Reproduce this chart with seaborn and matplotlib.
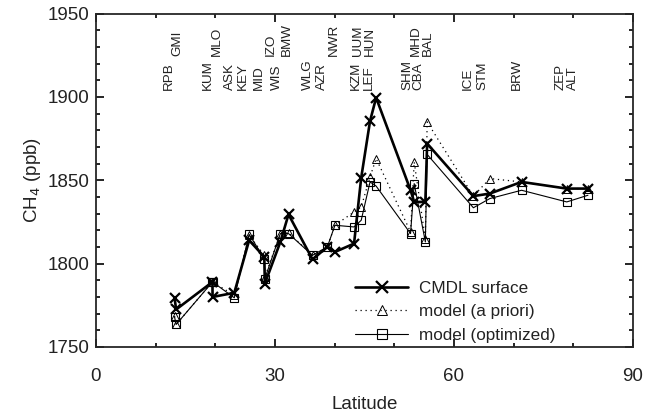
import matplotlib
matplotlib.use("Agg")
import matplotlib.pyplot as plt
import matplotlib.transforms as mtransforms
from matplotlib.ticker import MultipleLocator
import numpy as np
import pandas as pd
import seaborn as sns

# ---- data ----
stations = ["RPB", "GMI", "KUM", "MLO", "ASK", "KEY", "MID", "IZO", "WIS", "BMW",
            "WLG", "AZR", "NWR", "KZM", "UUM", "LEF", "HUN", "SHM", "MHD", "CBA",
            "BAL", "ICE", "STM", "BRW", "ZEP", "ALT"]
latitude = [13.17, 13.43, 19.52, 19.54, 23.18, 25.67, 28.21, 28.30, 30.90, 32.27,
            36.29, 38.77, 40.05, 43.25, 44.45, 45.93, 46.95, 52.72, 53.33, 55.20,
            55.50, 63.25, 66.00, 71.32, 78.90, 82.45]
cmdl = [1779.5, 1772.5, 1789, 1780, 1782.5, 1814, 1804, 1788, 1813, 1829.5,
        1802.5, 1810, 1807, 1812, 1851.5, 1885.5, 1899.5, 1844, 1837, 1837,
        1872, 1840.5, 1842, 1849, 1845, 1845]
apriori = [1768.5, 1763.5, 1789, 1789, 1781, 1817, 1805, 1792, 1818, 1818.5,
           1805, 1810, 1823, 1831, 1834, 1852, 1863, 1819, 1861, 1814.5,
           1885, 1840.5, 1851, 1849, 1845, 1845]
optimized = [1768, 1763.5, 1789, 1789, 1779.5, 1817.5, 1803, 1791, 1818, 1818,
             1805, 1810, 1823, 1822, 1826, 1849, 1846.5, 1818, 1848, 1813,
             1865.5, 1833.5, 1839, 1844, 1837, 1841]
series_names = ["CMDL surface", "model (a priori)", "model (optimized)"]

# station label layout (x in degrees latitude, row: 0 lower / 1 upper)
label_lat = [12.2, 13.7, 18.7, 20.3, 22.5, 24.6, 27.3, 29.3, 30.3, 32.0,
             35.5, 37.9, 39.9, 43.6, 43.9, 45.8, 45.9, 52.2, 53.6, 54.1,
             55.6, 62.3, 64.7, 70.6, 77.8, 79.9]
label_row = [0, 1, 0, 1, 0, 0, 0, 1, 0, 1,
             0, 0, 1, 0, 1, 0, 1, 0, 1, 0,
             1, 0, 0, 0, 0, 0]

df = pd.DataFrame({"lat": latitude, "cmdl": cmdl, "apriori": apriori, "opt": optimized})

# ---- style ----
sns.set_style("ticks")
plt.rcParams["font.family"] = ["Liberation Sans", "DejaVu Sans"]
plt.rcParams["text.color"] = "#222222"
plt.rcParams["axes.labelcolor"] = "#222222"
plt.rcParams["xtick.color"] = "black"
plt.rcParams["ytick.color"] = "black"
plt.rcParams["xtick.labelcolor"] = "#222222"
plt.rcParams["ytick.labelcolor"] = "#222222"

fig = plt.figure(figsize=(6.45, 4.12), dpi=100)
ax = fig.add_axes([0.1488, 0.1578, 0.8326, 0.8094])

common = dict(estimator=None, sort=False, ax=ax, color="black",
              markeredgecolor="black", markerfacecolor="none")
sns.lineplot(data=df, x="lat", y="cmdl", marker="x", markersize=6.5, markeredgewidth=1.6,
             linewidth=1.9, linestyle="-", label=series_names[0], **common)
sns.lineplot(data=df, x="lat", y="apriori", marker="^", markersize=5.5, markeredgewidth=0.7,
             linewidth=0.9, linestyle=(0, (1, 3)), label=series_names[1], **common)
sns.lineplot(data=df, x="lat", y="opt", marker="s", markersize=5.5, markeredgewidth=0.8,
             linewidth=0.8, linestyle="-", label=series_names[2], **common)

ax.set_xlim(0, 90)
ax.set_ylim(1750, 1950)
ax.xaxis.set_major_locator(MultipleLocator(30))
ax.xaxis.set_minor_locator(MultipleLocator(10))
ax.yaxis.set_major_locator(MultipleLocator(50))
ax.yaxis.set_minor_locator(MultipleLocator(10))
ax.tick_params(which="both", direction="in", top=True, right=True, width=1.2)
ax.tick_params(which="major", length=6)
ax.tick_params(which="minor", length=3)
ax.tick_params(axis="x", which="major", pad=15, labelsize=13.5)
ax.tick_params(axis="y", which="major", pad=5, labelsize=13.5)
for s in ax.spines.values():
    s.set_linewidth(1.3)

ax.set_xlabel("Latitude", fontsize=13.5, labelpad=8)
ax.set_ylabel("CH$_4$ (ppb)", fontsize=13.5, labelpad=3)

fig.canvas.draw()
ylabels = ax.get_yticklabels()
ylabels[0].set_verticalalignment("bottom")
ylabels[-1].set_verticalalignment("top")

# station labels
trans = mtransforms.blended_transform_factory(ax.transData, ax.transAxes)
row_y = [0.771, 0.874]
for name, lx, r in zip(stations, label_lat, label_row):
    ax.text(lx, row_y[r], name, rotation=90, ha="center", va="bottom",
            fontsize=9.7, transform=trans)

leg = ax.legend(loc="lower left", bbox_to_anchor=(0.483, 0.012), frameon=False,
                fontsize=12.3, handlelength=3.1, handletextpad=0.6,
                labelspacing=0.5, borderpad=0, borderaxespad=0, markerscale=1.3)

fig.savefig("out.png", dpi=100)
